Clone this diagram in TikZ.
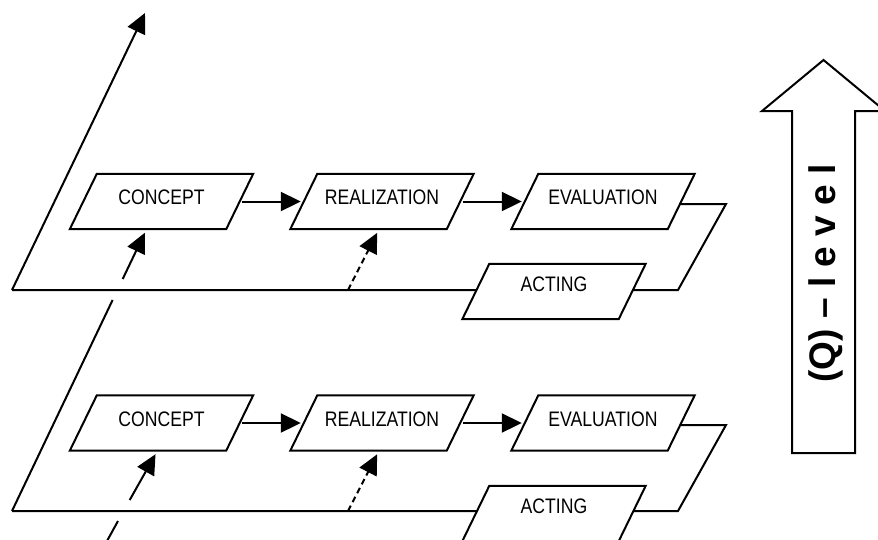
\documentclass[tikz,border=0pt]{standalone}
\usepackage{fontspec}
\setmainfont{Liberation Sans}
\newfontfamily\stagefont[FakeStretch=0.84]{Liberation Sans}
\usetikzlibrary{arrows.meta,calc}
\pgfdeclarelayer{back}
\pgfsetlayers{back,main}

% slanted outline drawn round a stage node
\newcommand\slantbox[1]{%
  \draw[edge, fill=white] ($(#1.south west)+(-13.5,0)$) -- ($(#1.south east)+(-13.5,0)$)
    -- ($(#1.north east)+(13.5,0)$) -- ($(#1.north west)+(13.5,0)$) -- cycle;}

\begin{document}
\begin{tikzpicture}[x=1pt,y=-1pt,
  edge/.style={line width=2pt, black},
  stage/.style={rectangle, minimum width=156pt, minimum height=55pt, inner sep=0pt,
    font=\stagefont\fontsize{21}{24}\selectfont, text height=14pt, text depth=7.4pt},
  lowstage/.style={stage, text height=10pt, text depth=10pt},
  flow/.style={edge, -{Triangle[length=20pt,width=19pt]}},
  hint/.style={flow, dash pattern=on 6pt off 4pt},
]
\useasboundingbox (0,0) rectangle (878,539);

% upper level
\node[stage] (c1) at (161.5,201.5) {CONCEPT};
\node[stage] (r1) at (382,201.5) {REALIZATION};
\node[stage] (e1) at (603,201.5) {EVALUATION};
\node[lowstage] (a1) at (554,291.5) {ACTING};

% lower level
\node[stage] (c2) at (161.5,423) {CONCEPT};
\node[stage] (r2) at (382,423) {REALIZATION};
\node[stage] (e2) at (603,423) {EVALUATION};
\node[lowstage] (a2) at (554,513.5) {ACTING};

% plane corners and free ends
\coordinate (bl1) at (12,290);
\coordinate (peak) at (145,13);
\coordinate (br1) at (678,290);
\coordinate (tr1) at (726,204);
\coordinate (bl2) at (12,511);
\coordinate (br2) at (678,511);
\coordinate (tr2) at (726,425);
\coordinate (bl3) at (96,561);
\coordinate (d1) at (348,290);
\coordinate (d2) at (348,511);
\coordinate (g1a) at (112.6,300);
\coordinate (g1b) at (122.7,279);
\coordinate (g2a) at (118,521);
\coordinate (g2b) at (129.7,500);

\begin{pgfonlayer}{back}
  % planes
  \draw[flow] (bl1) -- (peak);
  \draw[edge] (bl1) -- (br1) -- (tr1) -- (e1.center |- tr1);
  \draw[edge] (bl2) -- (br2) -- (tr2) -- (e2.center |- tr2);
  \draw[edge] (bl2) -- (g1a);
  \draw[edge] (bl3) -- (g2a);
  % stage outlines
  \slantbox{c1}\slantbox{r1}\slantbox{e1}\slantbox{a1}
  \slantbox{c2}\slantbox{r2}\slantbox{e2}\slantbox{a2}
\end{pgfonlayer}

% flow within each level
\draw[flow, shorten <=2.5pt, shorten >=3pt] (c1.east) -- (r1.west);
\draw[flow, shorten <=2.5pt, shorten >=3pt] (r1.east) -- (e1.west);
\draw[flow, shorten <=2.5pt, shorten >=3pt] (c2.east) -- (r2.west);
\draw[flow, shorten <=2.5pt, shorten >=3pt] (r2.east) -- (e2.west);

% links from the level below
\draw[flow, shorten >=4pt] (g1b) -- ($(c1.south)+(-15,0)$);
\draw[flow, shorten >=4pt] (g2b) -- ($(c2.south)+(-4,0)$);
\draw[hint, shorten >=4pt] (d1) -- ($(r1.south)+(-3,0)$);
\draw[hint, shorten >=4pt] (d2) -- ($(r2.south)+(-3,0)$);

% level arrow
\draw[edge] (823.5,60) -- (885,111) -- (855,111) -- (855,453) -- (792,453)
  -- (792,111) -- (762,111) -- cycle;
\node[rotate=90, font=\bfseries\fontsize{37}{40}\selectfont] (qlevel)
  at (825.5,273.5) {(Q) – l e v e l};
\end{tikzpicture}
\end{document}
